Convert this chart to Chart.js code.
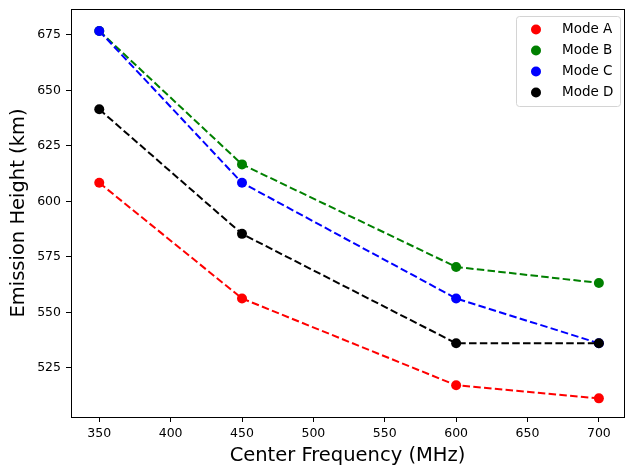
<!DOCTYPE html>
<html>
<head>
<meta charset="utf-8">
<script src="https://cdn.jsdelivr.net/npm/chart.js@4/dist/chart.umd.min.js"></script>
<style>
  html, body { margin: 0; padding: 0; background: #fff; overflow: hidden; }
  #wrap { width: 625px; height: 466px; }
  canvas { display: block; }
</style>
</head>
<body>
<div id="wrap"><canvas id="c" width="625" height="466"></canvas></div>
<script>
// Center frequencies (MHz) and emission heights (km) per mode
const frequencies = [350, 450, 600, 700];
const modeA = [608.4, 556.3, 517.2, 511.3];
const modeB = [676.8, 616.7, 570.5, 563.3];
const modeC = [676.8, 608.4, 556.3, 536.1];
const modeD = [641.5, 585.4, 536.1, 536.1];

const seriesNames = ['Mode A', 'Mode B', 'Mode C', 'Mode D'];
const seriesColors = ['#ff0000', '#008000', '#0000ff', '#000000'];

const xTicks = [350, 400, 450, 500, 550, 600, 650, 700];
const yTicks = [525, 550, 575, 600, 625, 650, 675];

const FONT = "'DejaVu Sans', sans-serif";
const NO_PAD = () => ({ left: 0, right: 0, top: 0, bottom: 0 });

function toPoints(ys) {
  return frequencies.map((f, i) => ({ x: f, y: ys[i] }));
}

const seriesValues = [modeA, modeB, modeC, modeD];
const datasets = seriesValues.map((vals, i) => ({
  label: seriesNames[i],
  data: toPoints(vals),
  borderColor: seriesColors[i],
  backgroundColor: seriesColors[i],
  borderWidth: 2,
  borderDash: [7.5, 3.3],
  pointRadius: 5,
  pointHoverRadius: 5,
  pointBorderWidth: 0,
  pointBackgroundColor: seriesColors[i],
  fill: false,
  tension: 0,
  clip: false,
  order: seriesValues.length - i
}));

// Frame around the plotting area (all four spines)
const framePlugin = {
  id: 'frame',
  afterDatasetsDraw(chart) {
    const { ctx, chartArea: a } = chart;
    ctx.save();
    ctx.strokeStyle = '#000';
    ctx.lineWidth = 1;
    ctx.strokeRect(Math.round(a.left) + 0.5, Math.round(a.top) + 0.5,
                   Math.round(a.right - a.left), Math.round(a.bottom - a.top));
    ctx.restore();
  }
};

// Boxed legend in the upper-right corner with round markers
const boxLegend = {
  id: 'boxLegend',
  afterDraw(chart) {
    const { ctx } = chart;
    const x0 = 516.5, y0 = 16.5, w = 104, h = 90, r = 3;
    ctx.save();
    ctx.beginPath();
    ctx.moveTo(x0 + r, y0);
    ctx.arcTo(x0 + w, y0, x0 + w, y0 + h, r);
    ctx.arcTo(x0 + w, y0 + h, x0, y0 + h, r);
    ctx.arcTo(x0, y0 + h, x0, y0, r);
    ctx.arcTo(x0, y0, x0 + w, y0, r);
    ctx.closePath();
    ctx.fillStyle = 'rgba(255,255,255,0.8)';
    ctx.fill();
    ctx.strokeStyle = '#d4d4d4';
    ctx.lineWidth = 1;
    ctx.stroke();
    ctx.font = '13.5px ' + FONT;
    ctx.textBaseline = 'middle';
    ctx.textAlign = 'left';
    chart.data.datasets.forEach((ds, i) => {
      const cy = 29.5 + i * 21;
      ctx.beginPath();
      ctx.arc(536, cy, 5, 0, Math.PI * 2);
      ctx.fillStyle = ds.backgroundColor;
      ctx.fill();
      ctx.fillStyle = '#000';
      ctx.fillText(ds.label, 562, cy);
    });
    ctx.restore();
  }
};

new Chart(document.getElementById('c'), {
  type: 'line',
  data: { datasets },
  options: {
    responsive: false,
    animation: false,
    devicePixelRatio: 1,
    layout: { autoPadding: false, padding: { left: 0, right: 1, top: 9, bottom: 0 } },
    plugins: {
      legend: { display: false },
      tooltip: { enabled: false }
    },
    scales: {
      x: {
        type: 'linear',
        min: 330.2,
        max: 717.6,
        afterBuildTicks(scale) { scale.ticks = xTicks.map(v => ({ value: v })); },
        afterFit(scale) {
          scale.height = 49;
          scale.paddingLeft = 0; scale.paddingRight = 0;
          scale.getPadding = NO_PAD;
        },
        grid: { drawOnChartArea: false, drawTicks: true, tickLength: 5, color: '#000', lineWidth: 1 },
        border: { display: true, color: '#000', width: 1 },
        ticks: { color: '#000', font: { family: FONT, size: 12.5 }, padding: 4, maxRotation: 0 },
        title: {
          display: true,
          text: 'Center Frequency (MHz)',
          color: '#000',
          font: { family: FONT, size: 19.5, lineHeight: 1 },
          padding: { top: 0, bottom: 0 }
        }
      },
      y: {
        type: 'linear',
        min: 502.9,
        max: 686.7,
        afterBuildTicks(scale) { scale.ticks = yTicks.map(v => ({ value: v })); },
        afterFit(scale) {
          scale.width = 71;
          scale.paddingTop = 0; scale.paddingBottom = 0;
          scale.getPadding = NO_PAD;
        },
        grid: { drawOnChartArea: false, drawTicks: true, tickLength: 5, color: '#000', lineWidth: 1 },
        border: { display: true, color: '#000', width: 1 },
        ticks: { color: '#000', font: { family: FONT, size: 12.5 }, padding: 5 },
        title: {
          display: true,
          text: 'Emission Height (km)',
          color: '#000',
          font: { family: FONT, size: 19.5, lineHeight: 1 },
          padding: { top: 9, bottom: 0 }
        }
      }
    }
  },
  plugins: [framePlugin, boxLegend]
});
</script>
</body>
</html>
